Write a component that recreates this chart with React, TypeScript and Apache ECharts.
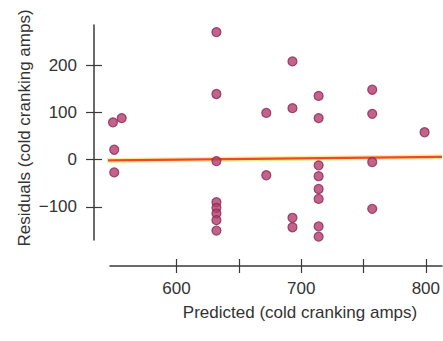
import React, { useEffect, useRef } from "react";
import * as echarts from "echarts";

const predicted = [
  549, 556, 550, 550,
  632, 632, 632, 632, 632, 632, 632, 632,
  672, 672,
  693, 693, 693, 693,
  714, 714, 714, 714, 714, 714, 714, 714,
  757, 757, 757, 757,
  799,
];
const residuals = [
  79, 88, 21, -27,
  270, 139, -3, -90, -102, -114, -128, -150,
  99, -33,
  208, 109, -123, -143,
  135, 88, -12, -35, -62, -83, -141, -163,
  148, 97, -5, -104,
  58,
];
const xTicks = [600, 650, 700, 750, 800];
const xLabels = [600, 700, 800];
const yTicks = [-100, 0, 100, 200];
const fitLineX = [534, 813];
const fitLineY = [-2, 6];

const xTitle = "Predicted (cold cranking amps)";
const yTitle = "Residuals (cold cranking amps)";

export default function App() {
  const ref = useRef<HTMLDivElement>(null);
  useEffect(() => {
    if (!ref.current) return;
    const chart = echarts.init(ref.current, null, { renderer: "svg" });
    const font = "'Liberation Sans', Arial, sans-serif";
    const axisColor = "#3a3a3a";
    const xBase = {
      type: "value" as const,
      min: 546.6,
      max: 813,
      position: "bottom" as const,
      offset: 26,
      splitLine: { show: false },
    };
    const yBase = {
      type: "value" as const,
      min: -170,
      max: 285,
      position: "left" as const,
      offset: 16,
      splitLine: { show: false },
    };
    chart.setOption({
      animation: false,
      backgroundColor: "#ffffff",
      grid: { left: 110, right: 0, top: 25, bottom: 101 },
      xAxis: [
        {
          ...xBase,
          axisLine: { show: true, onZero: false, lineStyle: { color: axisColor, width: 1.5 } },
          axisTick: {
            show: true,
            inside: false,
            length: 7,
            customValues: xTicks,
            lineStyle: { color: axisColor, width: 1.2 },
          },
          axisLabel: {
            show: true,
            margin: 14,
            customValues: xLabels,
            color: "#333",
            fontSize: 17,
            fontFamily: font,
          },
        },
        {
          ...xBase,
          axisLine: { show: false, onZero: false },
          axisTick: {
            show: true,
            inside: true,
            length: 7,
            customValues: xTicks,
            lineStyle: { color: axisColor, width: 1.2 },
          },
          axisLabel: { show: false },
        },
      ],
      yAxis: [
        {
          ...yBase,
          axisLine: { show: true, onZero: false, lineStyle: { color: axisColor, width: 1.5 } },
          axisTick: {
            show: true,
            inside: false,
            length: 8,
            customValues: yTicks,
            lineStyle: { color: axisColor, width: 1.2 },
          },
          axisLabel: {
            show: true,
            margin: 17,
            customValues: yTicks,
            color: "#333",
            fontSize: 17,
            fontFamily: font,
            formatter: (v: number) => String(v).replace("-", "\u2212"),
          },
        },
        {
          ...yBase,
          axisLine: { show: false, onZero: false },
          axisTick: {
            show: true,
            inside: true,
            length: 8,
            customValues: yTicks,
            lineStyle: { color: axisColor, width: 1.2 },
          },
          axisLabel: { show: false },
        },
      ],
      graphic: [
        {
          type: "text",
          x: 300,
          y: 312,
          style: {
            text: xTitle,
            fill: "#333",
            font: `17px ${font}`,
            textAlign: "center",
            textVerticalAlign: "middle",
          },
        },
        {
          type: "text",
          x: 24,
          y: 128,
          rotation: Math.PI / 2,
          style: {
            text: yTitle,
            fill: "#333",
            font: `17px ${font}`,
            textAlign: "center",
            textVerticalAlign: "middle",
          },
        },
      ],
      series: [
        {
          type: "line",
          xAxisIndex: 0,
          yAxisIndex: 0,
          clip: false,
          symbol: "none",
          data: fitLineX.map((x, i) => [x, fitLineY[i]]),
          lineStyle: { color: "#f7e46a", width: 5, opacity: 0.7 },
          z: 1,
        },
        {
          type: "line",
          xAxisIndex: 0,
          yAxisIndex: 0,
          clip: false,
          symbol: "none",
          data: fitLineX.map((x, i) => [x, fitLineY[i]]),
          lineStyle: { color: "#f0462a", width: 2.2 },
          z: 2,
        },
        {
          type: "scatter",
          xAxisIndex: 0,
          yAxisIndex: 0,
          clip: false,
          symbolSize: 9,
          data: predicted.map((x, i) => [x, residuals[i]]),
          itemStyle: { color: "#b23c6e", borderColor: "#8c2854", borderWidth: 1.2 },
          z: 3,
        },
      ],
    });
    return () => chart.dispose();
  }, []);
  return (
    <div
      ref={ref}
      style={{ position: "absolute", left: 0, top: 0, width: 443, height: 341 }}
    />
  );
}
